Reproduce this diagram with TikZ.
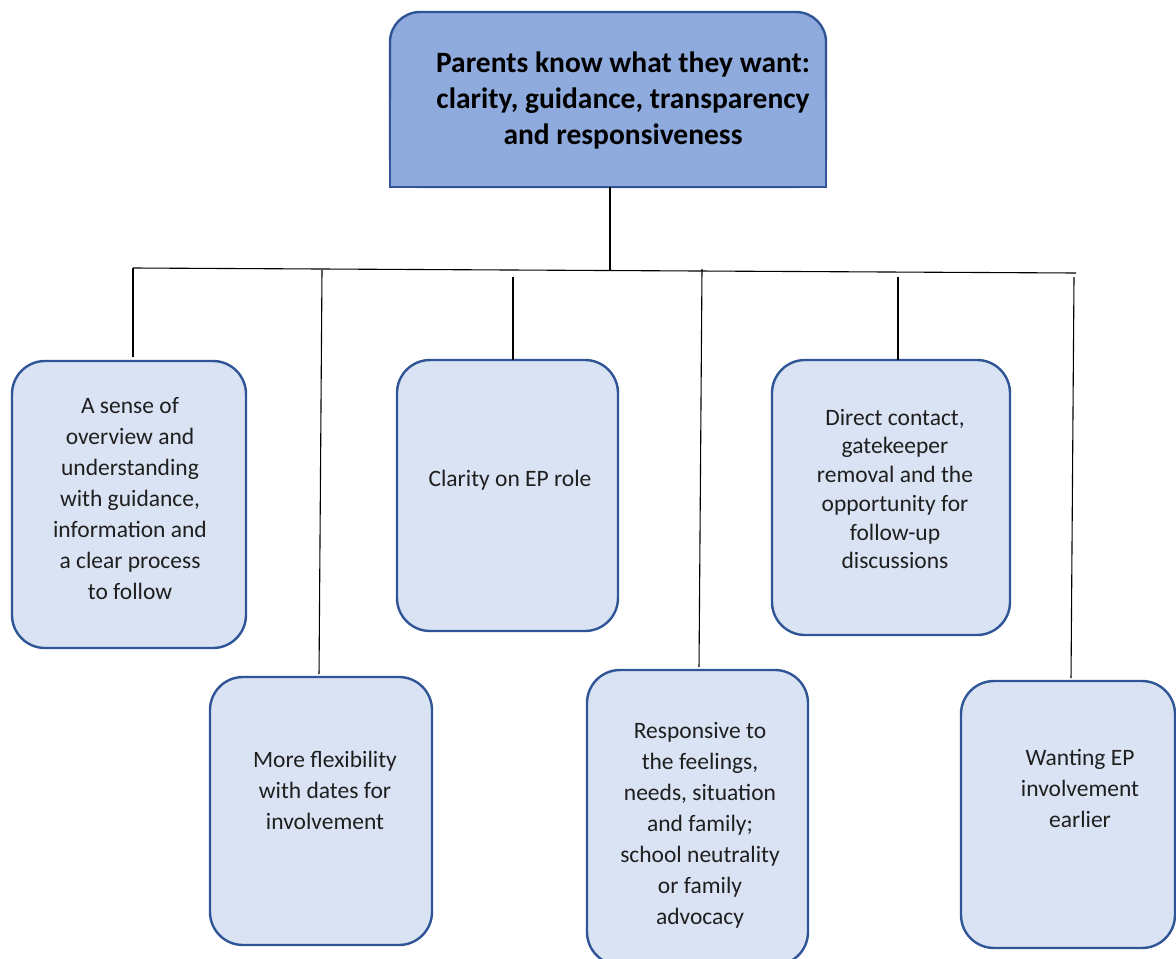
\documentclass[tikz,border=0pt]{standalone}
\usepackage{fontspec}
\setmainfont{Carlito}
\definecolor{edge}{HTML}{2F5597}
\definecolor{pale}{HTML}{DAE3F3}
\definecolor{head}{HTML}{8FAADC}
\begin{document}
\begin{tikzpicture}[x=1pt,y=-1pt,
  leaf/.style={draw=edge, fill=pale, line width=2.4pt, rounded corners=33pt,
    inner sep=0pt, outer sep=0pt},
  leaftext/.style={align=center, inner sep=0pt, text=black!88,
    font=\fontsize{23.5}{31}\selectfont},
  wire/.style={line width=1.1pt, black}]
\useasboundingbox (0,0) rectangle (1176,959);

% heading box: rounded top corners, square bottom corners
\node[draw=edge, fill=head, line width=2.4pt, rounded corners=30pt,
  minimum width=436pt, minimum height=175pt, inner sep=0pt, outer sep=0pt]
  (top) at (608,99.5) {};
\fill[head] (top.west) rectangle (top.south east);
\draw[edge, line width=2.4pt] (top.west) -- (top.south west)
  -- (top.south east) -- (top.east);
\node[align=center, inner sep=0pt, font=\fontsize{29.5}{36}\selectfont\bfseries]
  (toptext) at (623,100.5)
  {Parents know what they want:\\clarity, guidance, transparency\\and responsiveness};

% leaf boxes
\node[leaf, minimum width=234pt, minimum height=287pt] (b1) at (129,504.5) {};
\node[leaf, minimum width=222pt, minimum height=268pt] (b2) at (321,811) {};
\node[leaf, minimum width=221pt, minimum height=271pt] (b3) at (507.5,495.5) {};
\node[leaf, minimum width=238pt, minimum height=275pt] (b4) at (891,497.5) {};
\node[leaf, minimum width=221pt, minimum height=295pt] (b5) at (697.5,817.5) {};
\node[leaf, minimum width=214pt, minimum height=267pt] (b6) at (1068,814.5) {};

% leaf texts
\node[leaftext] (t1) at (130,499) {A sense of\\overview and\\understanding\\with guidance,\\information and\\a clear process\\to follow};
\node[leaftext] (t2) at (325,790) {More flexibility\\with dates for\\involvement};
\node[leaftext] (t3) at (510,480) {Clarity on EP role};
\node[leaftext, font=\fontsize{23.5}{28.7}\selectfont] (t4) at (895,489)
  {Direct contact,\\gatekeeper\\removal and the\\opportunity for\\follow-up\\discussions};
\node[leaftext] (t5) at (700,825.5) {Responsive to\\the feelings,\\needs, situation\\and family;\\school neutrality\\or family\\advocacy};
\node[leaftext] (t6) at (1080,788) {Wanting EP\\involvement\\earlier};

% connectors
\coordinate (hubL) at (133,268);
\coordinate (hubR) at (1076,273);
\coordinate (hubC) at (610,270.5);
\draw[wire] (hubL) -- (hubR);
\draw[wire] (top.south -| hubC) -- (hubC);

\coordinate (j1) at (133,268);
\coordinate (j2) at (322,270);
\coordinate (j3) at (513,277);
\coordinate (j4) at (898,277);
\coordinate (j5) at (702,269);
\coordinate (j6) at (1074,277);
\draw[wire, shorten >=4pt] (j1) -- (j1 |- b1.north);
\draw[wire, shorten >=3pt] (j2) -- ([xshift=-2pt]b2.north);
\draw[wire] (j3) -- (j3 |- b3.north);
\draw[wire] (j4) -- (j4 |- b4.north);
\draw[wire, shorten >=3pt] (j5) -- ([xshift=1.5pt]b5.north);
\draw[wire, shorten >=3pt] (j6) -- ([xshift=3pt]b6.north);
\end{tikzpicture}
\end{document}
